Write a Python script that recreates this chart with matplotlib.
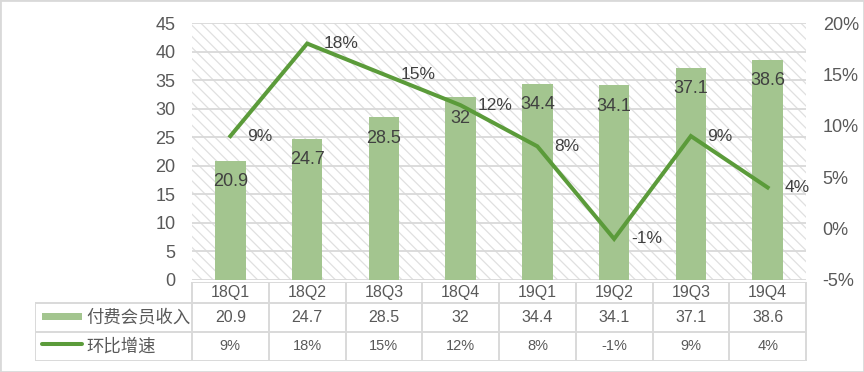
import matplotlib
matplotlib.use("Agg")
import matplotlib.pyplot as plt
from matplotlib.patches import Rectangle
from matplotlib.lines import Line2D

# chart data
quarters = ['18Q1', '18Q2', '18Q3', '18Q4', '19Q1', '19Q2', '19Q3', '19Q4']
revenue = [20.9, 24.7, 28.5, 32, 34.4, 34.1, 37.1, 38.6]
growth = [9, 18, 15, 12, 8, -1, 9, 4]
series_names = ['付费会员收入', '环比增速']
left_ticks = [0, 5, 10, 15, 20, 25, 30, 35, 40, 45]
right_ticks = [-5, 0, 5, 10, 15, 20]

BAR_COLOR = '#A3C58F'
LINE_COLOR = '#5B9B3A'
TEXT_COLOR = '#595959'
GRID_COLOR = '#D9D9D9'

plt.rcParams['font.family'] = ['Liberation Sans', 'Noto Sans CJK SC', 'DejaVu Sans']
plt.rcParams['hatch.color'] = '#E0E0E0'
plt.rcParams['hatch.linewidth'] = 0.9

W, H = 864, 372
fig = plt.figure(figsize=(W / 100, H / 100), dpi=100)

# plot area in pixels
px_left, px_right, px_top, px_bottom = 192, 806, 23, 280
ax = fig.add_axes([px_left / W, 1 - px_bottom / H,
                   (px_right - px_left) / W, (px_bottom - px_top) / H])
n = len(quarters)
x = list(range(n))
ax.set_xlim(-0.5, n - 0.5)
ax.set_ylim(0, 45)

# hatched background
ax.add_patch(Rectangle((0, 0), 1, 1, transform=ax.transAxes, facecolor='white',
                       edgecolor='#E0E0E0', hatch='\\\\\\', linewidth=0, zorder=0))
ax.set_axisbelow(True)
ax.yaxis.grid(True, color=GRID_COLOR, linewidth=1.3)
ax.set_yticks(left_ticks)
ax.set_xticks([])
ax.tick_params(axis='y', length=0, pad=12, labelsize=13, labelcolor=TEXT_COLOR)
for s in ax.spines.values():
    s.set_visible(False)

bars = ax.bar(x, revenue, width=0.4, color=BAR_COLOR, zorder=2)
for xi, v in zip(x, revenue):
    ax.annotate(f'{v:g}', (xi, v), xytext=(0, -15), textcoords='offset points',
                ha='center', va='center', fontsize=13, color='#404040', zorder=3)

ax2 = ax.twinx()
ax2.set_ylim(-5, 20)
ax2.set_yticks(right_ticks)
ax2.set_yticklabels([f'{t}%' for t in right_ticks])
ax2.tick_params(axis='y', length=0, pad=12, labelsize=13, labelcolor=TEXT_COLOR)
for s in ax2.spines.values():
    s.set_visible(False)
ax2.plot(x, growth, color=LINE_COLOR, linewidth=2.9, solid_joinstyle='miter')
for xi, v in zip(x, growth):
    ax2.annotate(f'{v}%', (xi, v), xytext=(12, 0), textcoords='offset points',
                 ha='left', va='center', fontsize=12.5, color='#404040')

# data table below the chart
tab_left, tab_right = 35, 807
rows = [282, 303, 332, 361]
col_w = (px_right - px_left) / n
u = lambda p: -0.5 + (p - px_left) / col_w
tab = fig.add_axes([tab_left / W, 1 - rows[-1] / H,
                    (tab_right - tab_left) / W, (rows[-1] - rows[0]) / H])
tab.set_xlim(u(tab_left), u(tab_right))
tab.set_ylim(rows[-1], rows[0])
tab.axis('off')

lc = dict(color=GRID_COLOR, linewidth=1.4, solid_capstyle='projecting')
tab.plot([-0.5, n - 0.5], [rows[0], rows[0]], **lc)
for r in rows[1:]:
    tab.plot([u(tab_left), n - 0.5], [r, r], **lc)
for i in range(n + 1):
    tab.plot([i - 0.5, i - 0.5], [rows[0], rows[-1]], **lc)
tab.plot([u(tab_left), u(tab_left)], [rows[1], rows[-1]], **lc)

mid = [(rows[i] + rows[i + 1]) / 2 for i in range(3)]
for xi, q, v, g in zip(x, quarters, revenue, growth):
    tab.text(xi, mid[0], q, ha='center', va='center', fontsize=11.5, color=TEXT_COLOR)
    tab.text(xi, mid[1], f'{v:g}', ha='center', va='center', fontsize=11.5, color=TEXT_COLOR)
    tab.text(xi, mid[2], f'{g}%', ha='center', va='center', fontsize=10.5, color=TEXT_COLOR)

# legend keys inside the table
tab.add_patch(Rectangle((u(42), mid[1] - 4), u(82) - u(42), 7, facecolor=BAR_COLOR,
                        edgecolor='none'))
tab.add_line(Line2D([u(42), u(82)], [mid[2] - 2, mid[2] - 2], color=LINE_COLOR,
                    linewidth=2.9, solid_capstyle='round'))
tab.text(u(86), mid[1], series_names[0], ha='left', va='center', fontsize=12.5,
         color=TEXT_COLOR, family=['Noto Sans CJK SC', 'DejaVu Sans'])
tab.text(u(86), mid[2], series_names[1], ha='left', va='center', fontsize=12.5,
         color=TEXT_COLOR, family=['Noto Sans CJK SC', 'DejaVu Sans'])

# outer border
fig.patches.append(Rectangle((0, 0), 1, 1, transform=fig.transFigure, fill=False,
                             edgecolor=GRID_COLOR, linewidth=2))

fig.savefig('out.png', dpi=100)
